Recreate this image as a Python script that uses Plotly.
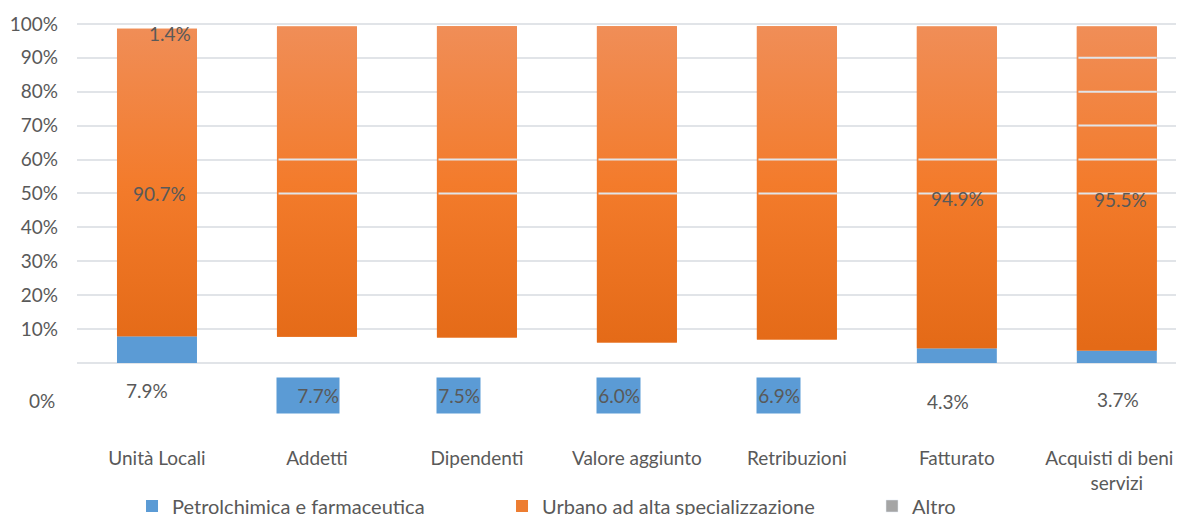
import plotly.graph_objects as go

# ---------------- data ----------------
categories = ["Unità Locali", "Addetti", "Dipendenti", "Valore aggiunto",
              "Retribuzioni", "Fatturato", "Acquisti di beni e<br>servizi"]
petrol = [7.9, 7.7, 7.5, 6.0, 6.9, 4.3, 3.7]          # Petrolchimica e farmaceutica (%)
urbano = [90.7, 91.5, 91.8, 93.3, 92.4, 94.9, 95.5]   # Urbano ad alta specializzazione (%)
altro = [1.4, None, None, None, None, None, None]     # Altro (%)
urbano_labelled = [True, False, False, False, False, True, True]
y_ticks = [0, 10, 20, 30, 40, 50, 60, 70, 80, 90, 100]

# ---------------- style ----------------
BLUE = "#5B9BD5"
ORANGE = "#ED7D31"
GREY = "#A5A5A5"
TXT = "#595959"
GRID = "#E1E4E8"
FONT = "Lato"
FS = 19
BARW = 0.5
petrol_box = [False, True, True, True, True, False, False]
petrol_visible_bar = [True, False, False, False, False, True, True]
petrol_box_w = [0, 62, 43, 43, 43, 0, 0]
petrol_xshift = [-10, 0, 0, 0, 0, -9, 1]
petrol_ypos = [-8.0, -9.6, -9.6, -9.6, -9.6, -11.5, -10.9]
urbano_xshift = [3, 0, 0, 0, 0, 1, 4]
urbano_ypos = [49.9, 0, 0, 0, 0, 48.4, 48.1]
altro_xshift = [13]
altro_ypos = [97.3]
over_lines = [[], [50, 60], [50, 60], [50, 60], [50, 60], [50, 60], [50, 60, 70, 80, 90]]

idx = list(range(len(categories)))

fig = go.Figure()

fig.add_trace(go.Bar(
    x=idx, y=[v / 100 for v in petrol], name="Petrolchimica e farmaceutica",
    marker=dict(color=[BLUE if s else "rgba(0,0,0,0)" for s in petrol_visible_bar], line=dict(width=0)),
    width=BARW, hoverinfo="skip"))

fig.add_trace(go.Bar(
    x=idx, y=[v / 100 for v in urbano], base=[v / 100 for v in petrol],
    name="Urbano ad alta specializzazione",
    marker=dict(color=ORANGE, line=dict(width=0)), width=BARW, hoverinfo="skip"))

fig.add_trace(go.Bar(x=[None], y=[None], name="Altro",
                     marker=dict(color=GREY), hoverinfo="skip"))

gx, gy = [], []
for i in idx:
    b = petrol[i] / 100
    t = (petrol[i] + urbano[i]) / 100
    gx += [i - BARW / 2, i + BARW / 2, i + BARW / 2, i - BARW / 2, i - BARW / 2, None]
    gy += [b, b, t, t, b, None]
fig.add_trace(go.Scatter(
    x=gx, y=gy, mode="lines", fill="toself", line=dict(width=0),
    fillgradient=dict(type="vertical", start=0.05, stop=1.0,
                      colorscale=[[0, "#E46A17"], [0.5, "#F37B2B"], [1, "#F08E58"]]),
    showlegend=False, hoverinfo="skip"))

ann = []
shapes = []
for i in idx:
    txt = f"{petrol[i]:.1f}%"
    if petrol_box[i]:
        w = petrol_box_w[i]
        ann.append(dict(x=i, y=petrol_ypos[i] / 100, xref="x", yref="y", text=txt,
                        showarrow=False, xanchor="center", yanchor="middle",
                        xshift=-BARW * 80 + w / 2, width=w, height=35, align="right",
                        bgcolor=BLUE, borderpad=0,
                        font=dict(family=FONT, size=FS, color=TXT)))
    else:
        ann.append(dict(x=i, y=petrol_ypos[i] / 100, xref="x", yref="y", text=txt,
                        showarrow=False, xanchor="center", yanchor="middle",
                        xshift=petrol_xshift[i],
                        font=dict(family=FONT, size=FS, color=TXT)))
    if urbano_labelled[i]:
        ann.append(dict(x=i, y=urbano_ypos[i] / 100, xref="x", yref="y",
                        text=f"{urbano[i]:.1f}%", showarrow=False,
                        xanchor="center", yanchor="middle", xshift=urbano_xshift[i],
                        font=dict(family=FONT, size=FS, color=TXT)))
    if altro[i] is not None:
        ann.append(dict(x=i, y=altro_ypos[0] / 100, xref="x", yref="y",
                        text=f"{altro[i]:.1f}%", showarrow=False,
                        xanchor="center", yanchor="middle", xshift=altro_xshift[0],
                        font=dict(family=FONT, size=FS, color=TXT)))
    for yv in over_lines[i]:
        shapes.append(dict(type="line", xref="x", yref="y", layer="above",
                           x0=i - BARW / 2 + 0.01, x1=i + BARW / 2, y0=yv / 100, y1=yv / 100,
                           line=dict(color=GRID, width=2)))

ann.append(dict(x=-0.018, xref="paper", y=-0.112, yref="y", text="0%", showarrow=False,
                xanchor="right", yanchor="middle",
                font=dict(family=FONT, size=FS, color=TXT)))

# the page has an 8px body margin, so the figure is sized to fit the window
fig.update_layout(
    width=1176, height=507,
    margin=dict(l=69, r=0, t=2, b=70, autoexpand=False),
    paper_bgcolor="white", plot_bgcolor="white",
    barmode="overlay",
    font=dict(family=FONT, size=FS, color=TXT),
    showlegend=True,
    legend=dict(orientation="h", x=0.0497, xanchor="left",
                y=0.0178, yref="container", yanchor="middle",
                entrywidth=325, entrywidthmode="pixels", traceorder="normal",
                font=dict(family=FONT, size=20, color=TXT), bgcolor="rgba(0,0,0,0)"),
    annotations=ann, shapes=shapes,
)
fig.update_xaxes(range=[-0.5, 6.42], tickvals=idx, ticktext=categories, automargin=False,
                 ticklabeloverflow="allow",
                 showgrid=False, zeroline=False, showline=False, ticks="",
                 tickfont=dict(family=FONT, size=FS, color=TXT))
fig.update_yaxes(range=[-0.242, 1.041], tickvals=[v / 100 for v in y_ticks], automargin=False,
                 ticktext=["" if v == 0 else f"{v}%" for v in y_ticks],
                 showgrid=True, gridcolor=GRID, gridwidth=2, zeroline=False,
                 showline=False, ticks="", ticklabelstandoff=18,
                 tickfont=dict(family=FONT, size=FS, color=TXT))

fig.write_html("out.html")
